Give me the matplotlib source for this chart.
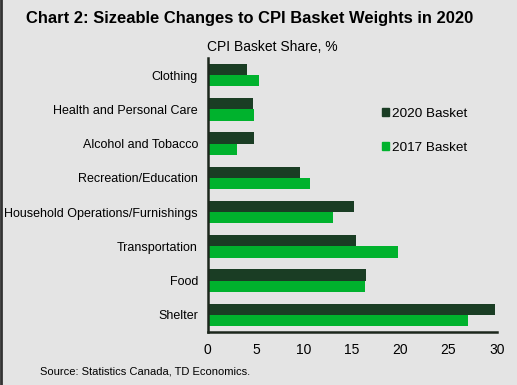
import numpy as np
import matplotlib.pyplot as plt
from matplotlib.patches import Patch
from matplotlib.lines import Line2D

plt.rcParams['font.family'] = ['Liberation Sans', 'DejaVu Sans']

# data
categories = ['Clothing', 'Health and Personal Care', 'Alcohol and Tobacco',
              'Recreation/Education', 'Household Operations/Furnishings',
              'Transportation', 'Food', 'Shelter']
basket_2020 = [4.05, 4.67, 4.77, 9.58, 15.19, 15.40, 16.44, 29.85]
basket_2017 = [5.33, 4.77, 3.05, 10.62, 13.00, 19.75, 16.34, 27.02]
xticks = [0, 5, 10, 15, 20, 25, 30]

bg = '#e4e4e4'
dark = '#1a3d24'
bright = '#00b22d'

fig = plt.figure(figsize=(5.17, 3.85), dpi=100, facecolor=bg)
ax = fig.add_axes([0.4017, 0.1377, 0.559, 0.7117])
ax.set_facecolor(bg)

y = np.arange(len(categories))
h = 0.33
ax.barh(y - h/2, basket_2020, height=h, color=dark, label='2020 Basket')
ax.barh(y + h/2, basket_2017, height=h, color=bright, label='2017 Basket')

ax.set_ylim(len(categories) - 0.5, -0.5)
ax.set_xlim(0, 30)
ax.set_yticks(y)
ax.set_yticklabels(categories, fontsize=9)
ax.set_xticks(xticks)
ax.set_xticklabels([str(t) for t in xticks], fontsize=10)
ax.tick_params(axis='y', length=0, pad=7, colors='black')
ax.tick_params(axis='x', length=0, pad=8, colors='black')

for s in ['top', 'right']:
    ax.spines[s].set_visible(False)
for s in ['left', 'bottom']:
    ax.spines[s].set_color('#1c261c')
    ax.spines[s].set_linewidth(1.8)

handles = [Patch(color=dark), Patch(color=bright)]
ax.legend(handles, ['2020 Basket', '2017 Basket'], loc='upper left',
          bbox_to_anchor=(0.58, 0.842), frameon=False, fontsize=9.7,
          handlelength=0.55, handleheight=0.55, handletextpad=0.2,
          labelspacing=1.6, borderpad=0)

fig.text(0.05, 0.953, 'Chart 2: Sizeable Changes to CPI Basket Weights in 2020',
         fontsize=11.9, fontweight='bold', ha='left', va='center')
fig.text(0.526, 0.878, 'CPI Basket Share, %', fontsize=10, ha='center', va='center')
fig.text(0.077, 0.034, 'Source: Statistics Canada, TD Economics.',
         fontsize=8, ha='left', va='center')

# dark edge on the left of the frame
fig.add_artist(Line2D([0.002, 0.002], [0, 1], color='#333333', lw=2,
                      transform=fig.transFigure))

fig.savefig('out.png', dpi=100, facecolor=bg)
